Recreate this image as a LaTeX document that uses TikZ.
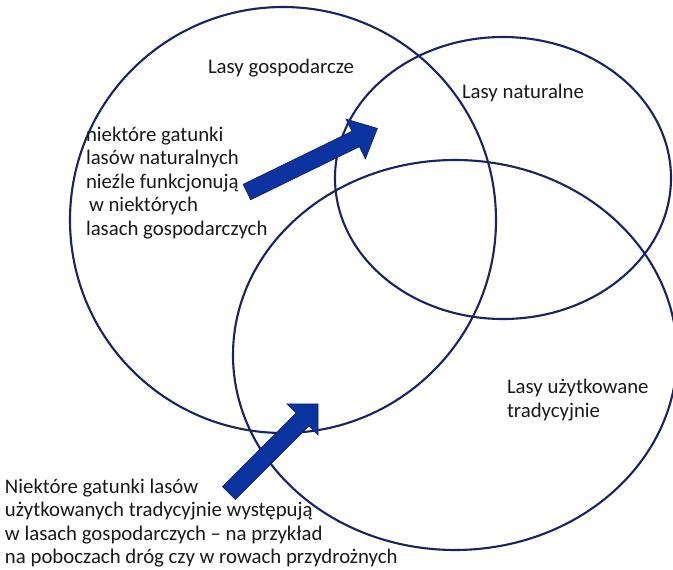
\documentclass[tikz,border=0pt]{standalone}
\usepackage{fontspec}
\setmainfont{Carlito}
\definecolor{ringcol}{RGB}{25,35,95}
\definecolor{arrfill}{RGB}{12,52,160}
\definecolor{arrline}{RGB}{20,35,110}
\begin{document}
\begin{tikzpicture}[x=1pt,y=-1pt,
  ring/.style={draw=ringcol,line width=2.1pt},
  bigarrow/.style={fill=arrfill,draw=arrline,line width=0.8pt,line join=miter},
  lbl/.style={inner sep=0pt,outer sep=0pt,font=\fontsize{20.8}{23.5}\selectfont,align=left,text=black!90}]
\fill[white] (0,0) rectangle (673,570);
\useasboundingbox (0,0) rectangle (673,570);
% sets
\draw[ring] (283,220) ellipse [x radius=213pt,y radius=213pt];
\draw[ring] (503,178) ellipse [x radius=168pt,y radius=141pt];
\draw[ring] (455,355) ellipse [x radius=222pt,y radius=195pt];
% arrow 1
\begin{scope}[shift={(247,192)},rotate=26]
  \draw[bigarrow] (0pt,-8.5pt) -- (121pt,-8.5pt) -- (121pt,-22pt) -- (145pt,0pt)
     -- (121pt,22pt) -- (121pt,8.5pt) -- (0pt,8.5pt) -- cycle;
\end{scope}
% arrow 2
\begin{scope}[shift={(229,493)},rotate=45]
  \draw[bigarrow] (0pt,-9pt) -- (104pt,-9pt) -- (104pt,-22pt) -- (126pt,0pt)
     -- (104pt,22pt) -- (104pt,9pt) -- (0pt,9pt) -- cycle;
\end{scope}
% labels (base anchor of a multi-line node = baseline of its last line)
\node[lbl,anchor=base west] (gosp) at (208,73) {Lasy gospodarcze};
\node[lbl,anchor=base west] (nat) at (462,98) {Lasy naturalne};
\node[lbl,anchor=base west] (natgosp) at (86,235) {niektóre gatunki\\lasów naturalnych\\nieźle funkcjonują\\\hspace*{3pt}w niektórych\\lasach gospodarczych};
\node[lbl,anchor=base west] (uzyt) at (507,417) {Lasy użytkowane\\tradycyjnie};
\node[lbl,anchor=base west] (uzgosp) at (5,563.5) {Niektóre gatunki lasów\\użytkowanych tradycyjnie występują\\w lasach gospodarczych – na przykład\\na poboczach dróg czy w rowach przydrożnych};
\end{tikzpicture}
\end{document}
